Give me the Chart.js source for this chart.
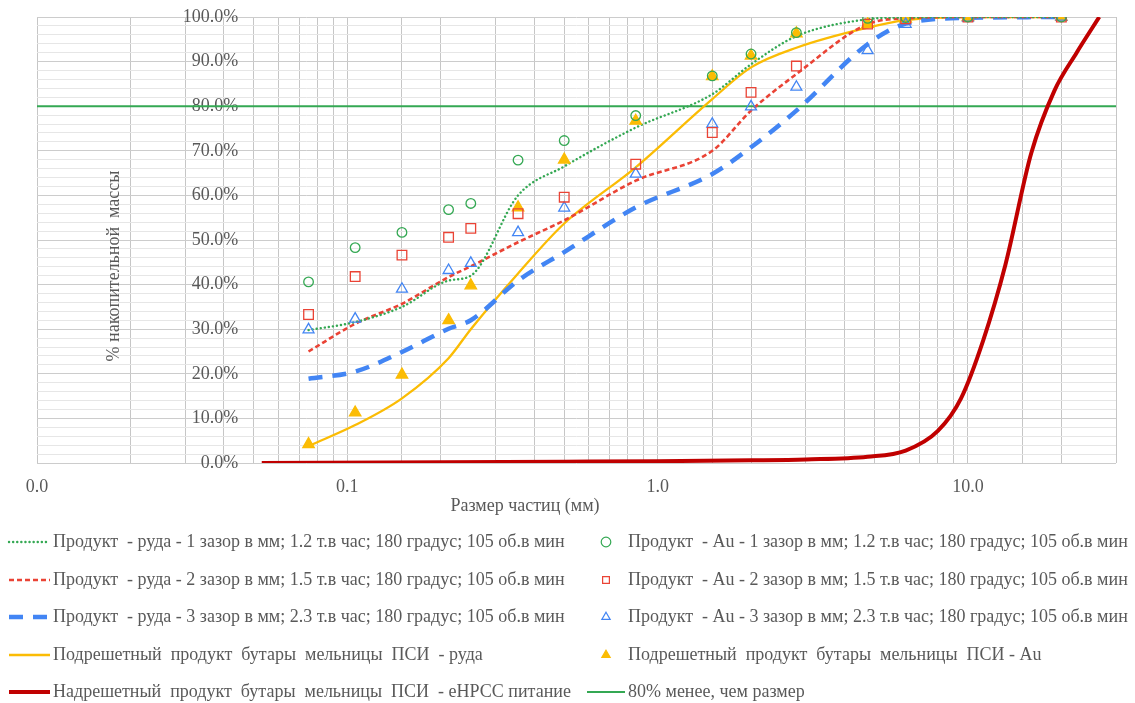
<!DOCTYPE html>
<html>
<head>
<meta charset="utf-8">
<title>Гранулометрический состав</title>
<script src="https://cdn.jsdelivr.net/npm/chart.js@4.4.0/dist/chart.umd.min.js"></script>
<style>
    html, body { margin: 0; padding: 0; background: #fff; }
    #wrap { width: 1135px; height: 703px; position: relative; }
</style>
</head>
<body>
<div id="wrap"><canvas id="psdChart"></canvas></div>
<script>
// Sieve sizes, mm
const sizes = [0.075, 0.106, 0.15, 0.212, 0.25, 0.355, 0.5, 0.85, 1.5, 2.0, 2.8, 4.75, 6.3, 10, 20];

// Ore curves, cumulative % passing
const ore1 = [29.8, 31.6, 35.0, 40.9, 42.0, 60.0, 66.5, 75.2, 82.7, 89.4, 95.7, 99.5, 99.9, 100, 100];
const ore2 = [25.0, 31.2, 35.7, 41.7, 44.1, 49.5, 54.4, 63.3, 70.0, 79.0, 87.2, 98.4, 99.7, 100, 100];
const ore3 = [18.9, 20.5, 24.9, 30.1, 32.0, 40.9, 47.3, 57.3, 64.8, 70.8, 79.0, 93.9, 98.5, 99.8, 100];
const underOre = [3.8, 8.5, 14.5, 23.5, 30.0, 42.5, 53.7, 66.3, 81.6, 88.7, 93.1, 97.6, 99.3, 100, 100];

// Au distribution, cumulative %
const au1 = [40.6, 48.3, 51.7, 56.8, 58.2, 67.9, 72.3, 77.9, 86.8, 91.7, 96.5, 99.7, 99.9, 100, 100];
const au2 = [33.3, 41.8, 46.6, 50.6, 52.6, 55.9, 59.6, 67.0, 74.1, 83.1, 89.0, 98.4, 99.6, 100, 100];
const au3 = [29.9, 32.3, 39.0, 43.2, 44.8, 51.7, 57.2, 64.8, 76.0, 79.9, 84.3, 92.5, 98.4, 99.8, 100];
const underAu = [4.2, 11.3, 19.8, 32.0, 39.8, 57.3, 68.0, 76.7, 86.7, 91.3, 96.3, 98.4, 99.6, 100, 100];

// Oversize (feed) curve
const feedSizes = [0.053, 0.5, 1, 2, 3, 4.75, 6.3, 8, 9.5, 11.2, 13.2, 16, 19, 22.4, 26.5];
const feedPassing = [0, 0.3, 0.4, 0.6, 0.8, 1.4, 2.8, 7.2, 14.5, 27.5, 44.4, 69.5, 83.5, 92.0, 100];

// 80% reference line
const limitSizes = [0.01, 30];
const limitPassing = [80, 80];

const labels = {
    ore1: 'Продукт  - руда - 1 зазор в мм; 1.2 т.в час; 180 градус; 105 об.в мин',
    au1: 'Продукт  - Au - 1 зазор в мм; 1.2 т.в час; 180 градус; 105 об.в мин',
    ore2: 'Продукт  - руда - 2 зазор в мм; 1.5 т.в час; 180 градус; 105 об.в мин',
    au2: 'Продукт  - Au - 2 зазор в мм; 1.5 т.в час; 180 градус; 105 об.в мин',
    ore3: 'Продукт  - руда - 3 зазор в мм; 2.3 т.в час; 180 градус; 105 об.в мин',
    au3: 'Продукт  - Au - 3 зазор в мм; 2.3 т.в час; 180 градус; 105 об.в мин',
    underOre: 'Подрешетный  продукт  бутары  мельницы  ПСИ  - руда',
    underAu: 'Подрешетный  продукт  бутары  мельницы  ПСИ - Au',
    feed: 'Надрешетный  продукт  бутары  мельницы  ПСИ  - eНРСС питание',
    limit: '80% менее, чем размер'
};

const GREEN = '#34A853';
const RED = '#EA4335';
const BLUE = '#4285F4';
const YELLOW = '#FBBC04';
const DARKRED = '#C00000';
const TEXT = '#595959';
const SERIF = "'Liberation Serif', 'Times New Roman', serif";

function pairs(xs, ys) {
    return xs.map((x, i) => ({ x: x, y: ys[i] }));
}

function lineSet(key, xs, ys, color, width, dash, cap) {
    return {
        key: key,
        label: labels[key],
        data: pairs(xs, ys),
        showLine: true,
        borderColor: color,
        backgroundColor: color,
        borderWidth: width,
        borderDash: dash,
        borderCapStyle: cap || 'butt',
        pointRadius: 0,
        cubicInterpolationMode: 'monotone',
        order: 5
    };
}

function markerSet(key, ys, color, style, radius, filled) {
    return {
        key: key,
        label: labels[key],
        data: pairs(sizes, ys),
        showLine: false,
        borderColor: color,
        backgroundColor: filled ? color : 'rgba(0,0,0,0)',
        pointStyle: style,
        pointRadius: radius,
        pointBorderWidth: 1.3,
        order: 1
    };
}

const datasets = [
    lineSet('ore1', sizes, ore1, GREEN, 2.4, [0.1, 4], 'round'),
    markerSet('au1', au1, GREEN, 'circle', 4.8, false),
    lineSet('ore2', sizes, ore2, RED, 2.6, [5, 3]),
    markerSet('au2', au2, RED, 'rect', 6.8, false),
    lineSet('ore3', sizes, ore3, BLUE, 4.5, [14, 10]),
    markerSet('au3', au3, BLUE, 'triangle', 6.3, false),
    lineSet('underOre', sizes, underOre, YELLOW, 2.3, []),
    markerSet('underAu', underAu, YELLOW, 'triangle', 6.6, true),
    lineSet('feed', feedSizes, feedPassing, DARKRED, 4, []),
    lineSet('limit', limitSizes, limitPassing, GREEN, 2, [])
];

function isDecade(v) {
    const l = Math.log10(v);
    return Math.abs(l - Math.round(l)) < 1e-9;
}

// Axis titles and the two-column legend
const decorPlugin = {
    id: 'decor',
    afterDraw(chart) {
        const ctx = chart.ctx;
        ctx.save();
        ctx.fillStyle = TEXT;
        ctx.font = '18px ' + SERIF;
        ctx.textBaseline = 'middle';
        ctx.textAlign = 'center';
        ctx.fillText('Размер частиц (мм)', 525, 506);

        ctx.save();
        ctx.translate(114, 266);
        ctx.rotate(-Math.PI / 2);
        ctx.fillText('% накопительной  массы', 0, 0);
        ctx.restore();

        const rowsY = [542, 580, 617, 655, 692];
        const left = ['ore1', 'ore2', 'ore3', 'underOre', 'feed'];
        const right = ['au1', 'au2', 'au3', 'underAu', 'limit'];
        const byKey = {};
        chart.data.datasets.forEach(ds => { byKey[ds.key] = ds; });

        ctx.font = '18px ' + SERIF;
        ctx.textAlign = 'left';

        function sample(ds, x0, x1, y) {
            ctx.save();
            ctx.strokeStyle = ds.borderColor;
            ctx.lineWidth = ds.borderWidth;
            ctx.setLineDash(ds.borderDash || []);
            ctx.lineCap = ds.borderCapStyle || 'butt';
            ctx.beginPath();
            ctx.moveTo(x0, y);
            ctx.lineTo(x1, y);
            ctx.stroke();
            ctx.restore();
        }

        left.forEach((k, i) => {
            const ds = byKey[k];
            sample(ds, 9, 50, rowsY[i]);
            ctx.fillStyle = TEXT;
            ctx.fillText(ds.label, 53, rowsY[i]);
        });

        right.forEach((k, i) => {
            const ds = byKey[k];
            if (ds.showLine) {
                sample(ds, 587, 625, rowsY[i]);
            } else {
                ctx.save();
                ctx.strokeStyle = ds.borderColor;
                ctx.fillStyle = ds.backgroundColor;
                ctx.lineWidth = 1.2;
                Chart.helpers.drawPoint(ctx, { pointStyle: ds.pointStyle, rotation: 0, radius: 4.8, borderWidth: 1.2 }, 606, rowsY[i]);
                ctx.restore();
            }
            ctx.fillStyle = TEXT;
            ctx.fillText(ds.label, 628, rowsY[i]);
        });
        ctx.restore();
    }
};

const chart = new Chart(document.getElementById('psdChart'), {
    type: 'scatter',
    data: { datasets: datasets },
    options: {
        responsive: true,
        maintainAspectRatio: false,
        animation: false,
        layout: { padding: { left: 37, right: 19, top: 17, bottom: 0 } },
        plugins: {
            legend: { display: false },
            tooltip: { enabled: false }
        },
        scales: {
            x: {
                type: 'logarithmic',
                min: 0.01,
                max: 30,
                afterFit: (scale) => { scale.height = 240; },
                ticks: {
                    autoSkip: false,
                    maxRotation: 0,
                    padding: 13,
                    color: TEXT,
                    font: { family: SERIF, size: 18 },
                    callback: (v) => isDecade(v) ? Number(v).toFixed(1) : ''
                },
                grid: { color: '#c6c6c6', drawTicks: false },
                border: { display: false }
            },
            y: {
                type: 'linear',
                // value axis crosses the size axis near 0.045 mm, labels sit inside the plot
                position: { x: 0.0445 },
                min: 0,
                max: 100,
                ticks: {
                    stepSize: 2,
                    autoSkip: false,
                    padding: 0,
                    color: TEXT,
                    font: { family: SERIF, size: 18 },
                    callback: (v) => v % 10 === 0 ? v.toFixed(1) + '%' : ''
                },
                grid: {
                    color: (c) => c.tick && c.tick.value % 10 === 0 ? '#cccccc' : '#e6e6e6',
                    drawTicks: false
                },
                border: { display: false }
            }
        }
    },
    plugins: [decorPlugin]
});
</script>
</body>
</html>
